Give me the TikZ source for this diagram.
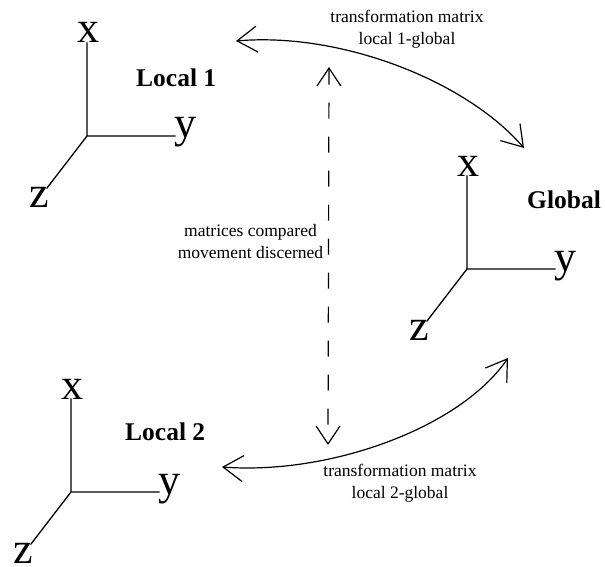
\documentclass[tikz,border=0pt]{standalone}
\usepackage{fontspec}
\setmainfont{Liberation Serif}
\usetikzlibrary{arrows.meta}

% One right-handed triad: #1 = name prefix, (#2,#3) = origin
\newcommand\axestriad[3]{%
  \coordinate (#1o) at (#2,#3);
  \coordinate (#1x) at (#2,#3-93);
  \coordinate (#1y) at (#2+88,#3);
  \coordinate (#1z) at (#2-40,#3+52);
  \draw[axis] (#1x) -- (#1o) -- (#1y) (#1o) -- (#1z);
  \node[axlabel,anchor=base] (#1xl) at (#2+1,#3-93) {x};
  \node[axlabel,anchor=base west] (#1yl) at (#2+87,#3+2) {y};
  \node[axlabel,anchor=base east] (#1zl) at (#2-38,#3+71) {z};
}

\begin{document}
\begin{tikzpicture}[x=1pt,y=-1pt,
  axis/.style={line width=1.3pt,line cap=rect},
  axlabel/.style={inner sep=0pt,font=\fontsize{44}{44}\selectfont},
  framename/.style={inner sep=0pt,anchor=base west,font=\fontsize{25.5}{30}\selectfont\bfseries},
  note/.style={inner sep=0pt,align=center,font=\fontsize{17.5}{22}\selectfont},
  link/.style={line width=1.2pt,
    {Straight Barb[length=20pt,width=26pt]}-{Straight Barb[length=20pt,width=26pt]}},
  compare/.style={line width=1.2pt,dash pattern=on 16pt off 18pt,
    {Straight Barb[length=18pt,width=24pt]}-{Straight Barb[length=18pt,width=24pt]}},
]
\useasboundingbox (0,0) rectangle (605,567);

% coordinate frames
\axestriad{la}{87}{136}
\axestriad{gl}{467}{269}
\axestriad{lb}{71}{492}

\node[framename] (loc1) at (136,87) {Local 1};
\node[framename] (glob) at (527,208) {Global};
\node[framename] (loc2) at (125,440) {Local 2};

% transformation arcs
\coordinate (t1a) at (236,41);
\coordinate (t1b) at (524,148);
\draw[link] (t1a) .. controls +(104,-9) and +(-59,-68) .. (t1b);

\coordinate (t2a) at (222,467);
\coordinate (t2b) at (508,358);
\draw[link] (t2a) .. controls +(108,8) and +(-48,70) .. (t2b);

% comparison between the two local frames
\coordinate (c1) at (329,67);
\coordinate (c2) at (328,445);
\draw[compare] (c1) -- (c2);

\node[note] (n1) at (407,29) {transformation matrix\\local 1-global};
\node[note] (n2) at (400,483) {transformation matrix\\local 2-global};
\node[note] (n3) at (250.5,242) {matrices compared\\movement discerned};
\end{tikzpicture}
\end{document}
